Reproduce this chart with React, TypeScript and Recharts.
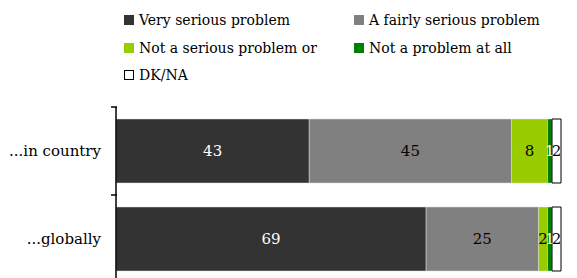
import React from "react"
import { BarChart, Bar, XAxis, YAxis, LabelList } from "recharts"

const categories = ["...in country", "...globally"]
const verySerious = [43, 69]
const fairlySerious = [45, 25]
const notSerious = [8, 2]
const notAtAll = [1, 1]
const dkna = [2, 2]

const seriesNames = [
  "Very serious problem",
  "A fairly serious problem",
  "Not a serious problem or",
  "Not a problem at all",
  "DK/NA",
]

const FONT = "'DejaVu Serif', serif"

const series = [
  { key: "very", name: seriesNames[0], fill: "#333333", stroke: "#dddddd", text: "#ffffff" },
  { key: "fairly", name: seriesNames[1], fill: "#808080", stroke: "#dddddd", text: "#000000" },
  { key: "notSerious", name: seriesNames[2], fill: "#99cc00", stroke: "#dddddd", text: "#000000" },
  { key: "notAtAll", name: seriesNames[3], fill: "#008000", stroke: "#dddddd", text: "#ffffff" },
  { key: "dkna", name: seriesNames[4], fill: "#ffffff", stroke: "#000000", text: "#000000" },
]

const data = categories.map((c, i) => ({
  name: c,
  very: verySerious[i],
  fairly: fairlySerious[i],
  notSerious: notSerious[i],
  notAtAll: notAtAll[i],
  dkna: dkna[i],
}))

function CategoryTick(props: any) {
  const { x, y, payload } = props
  const half = payload?.offset ?? 44
  return (
    <g>
      <line x1={x + 10} x2={x + 16} y1={y - half} y2={y - half} stroke="#000" strokeWidth={1.5} />
      <text x={x} y={y} dy={5} textAnchor="end" fontSize={15} fill="#000" fontFamily={FONT}>
        {payload.value}
      </text>
    </g>
  )
}

function LegendBlock() {
  const pos = [
    [124, 20],
    [354, 20],
    [124, 47.5],
    [354, 47.5],
    [124, 75],
  ]
  return (
    <>
      {series.map((s, i) => (
        <div
          key={s.key}
          style={{
            position: "absolute",
            left: pos[i][0],
            top: pos[i][1] - 8,
            height: 16,
            display: "flex",
            alignItems: "center",
            fontFamily: FONT,
            fontSize: 14,
            color: "#000",
            whiteSpace: "nowrap",
          }}
        >
          <span
            style={{
              display: "inline-block",
              width: s.key === "dkna" ? 8 : 10,
              height: s.key === "dkna" ? 8 : 10,
              background: s.fill,
              border: s.key === "dkna" ? "1px solid #000" : "none",
              marginRight: 5,
            }}
          />
          {s.name}
        </div>
      ))}
    </>
  )
}

export default function App() {
  return (
    <div style={{ position: "absolute", left: 0, top: 0, width: 577, height: 278, overflow: "hidden", background: "#fff" }}>
      <LegendBlock />
      <div style={{ position: "absolute", left: 0, top: 0 }}>
        <BarChart
          width={577}
          height={283}
          data={data}
          layout="vertical"
          margin={{ top: 107, right: 16, left: 0, bottom: 0 }}
          barSize={64}
        >
          <XAxis type="number" hide domain={[0, 99]} />
          <YAxis
            type="category"
            dataKey="name"
            width={116}
            axisLine={{ stroke: "#000", strokeWidth: 1.5 }}
            tickLine={false}
            tickSize={5}
            tickMargin={10}
            tick={<CategoryTick />}
            interval={0}
          />
          {series.map((s) => (
            <Bar
              key={s.key}
              dataKey={s.key}
              name={s.name}
              stackId="a"
              fill={s.fill}
              stroke={s.stroke}
              strokeWidth={s.key === "dkna" ? 1 : 0.5}
              isAnimationActive={false}
            >
              <LabelList dataKey={s.key} position="center" fill={s.text} fontSize={15} fontFamily={FONT} />
            </Bar>
          ))}
        </BarChart>
      </div>
    </div>
  )
}
